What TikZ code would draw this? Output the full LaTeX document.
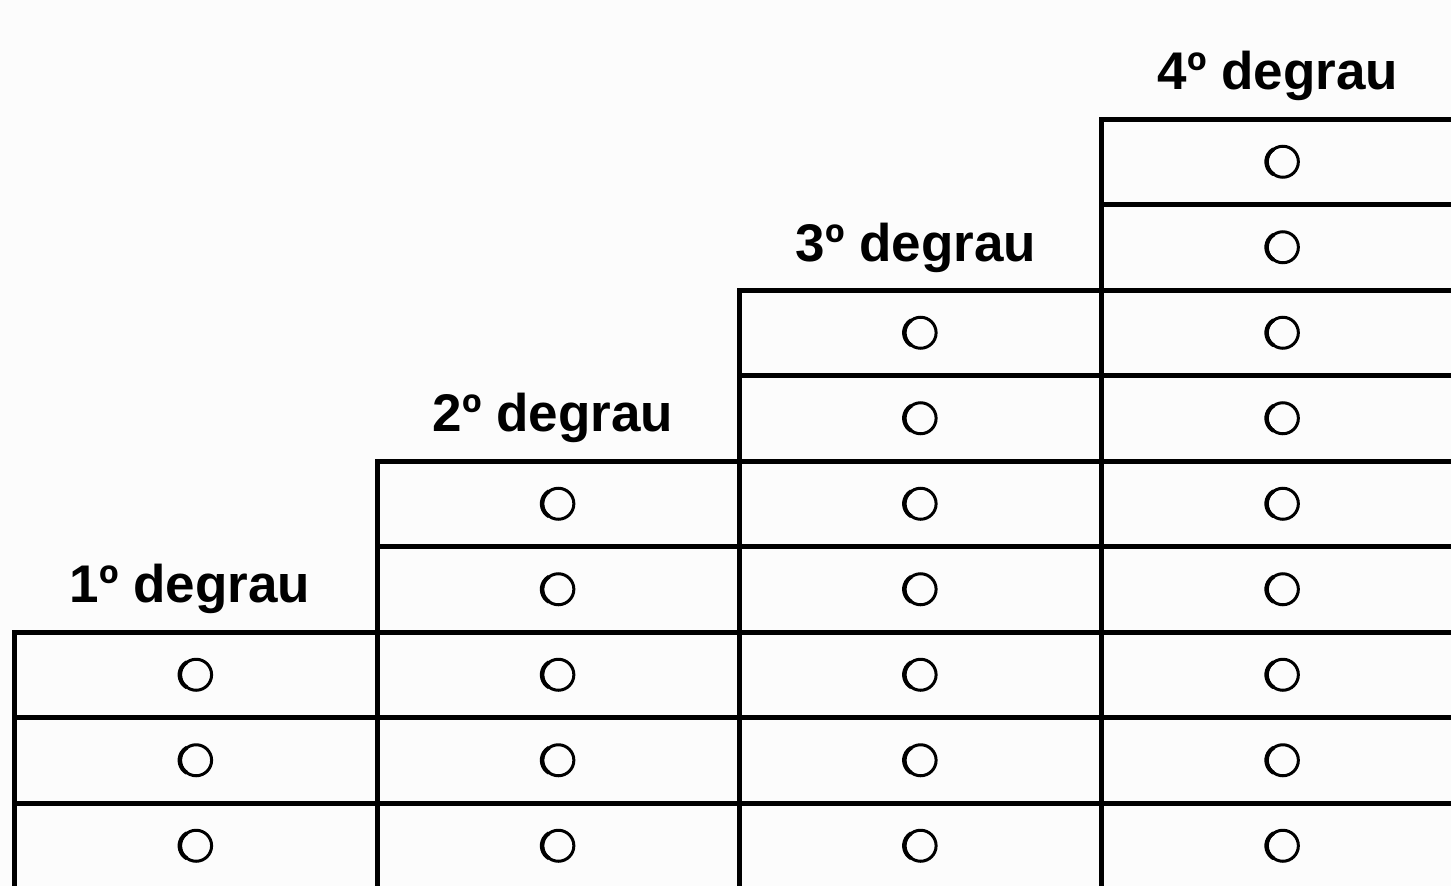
\documentclass[tikz,border=0pt]{standalone}
\usepackage{fontspec}
\setmainfont{Liberation Sans}
\definecolor{bg}{RGB}{252,252,252}
\begin{document}
\begin{tikzpicture}[x=1pt,y=-1pt,
  cell/.style={draw=black, line width=5pt, rectangle, inner sep=0pt,
    minimum width=362.25pt, minimum height=85.5pt},
  bubble/.style={circle, draw=black, line width=3pt, minimum size=31pt, inner sep=0pt},
  bubbleshade/.style={line width=4pt, draw=black},
  steplabel/.style={anchor=base, inner sep=0pt, font=\fontsize{53}{60}\selectfont\bfseries}]
\fill[bg] (0,0) rectangle (1451,886);
\useasboundingbox (0,0) rectangle (1451,886);
\foreach \c in {0,1,2,3}{
  \pgfmathtruncatemacro\rs{6-2*\c}
  \foreach \r in {\rs,...,8}{
    \node[cell] (cell-\c-\r) at ({196.1+362.25*\c},{161.75+85.5*\r}) {};
    \node[bubble] (dot-\c-\r) at (cell-\c-\r.center) {};
    \draw[bubbleshade] ([xshift=-2pt]dot-\c-\r.center) +(120:14.5) arc (120:240:14.5);
  }
}
\node[steplabel] (lab-1) at (190,602) {1º degrau};
\node[steplabel] (lab-2) at (553,431) {2º degrau};
\node[steplabel] (lab-3) at (916,261) {3º degrau};
\node[steplabel] (lab-4) at (1278,89) {4º degrau};
\end{tikzpicture}
\end{document}
